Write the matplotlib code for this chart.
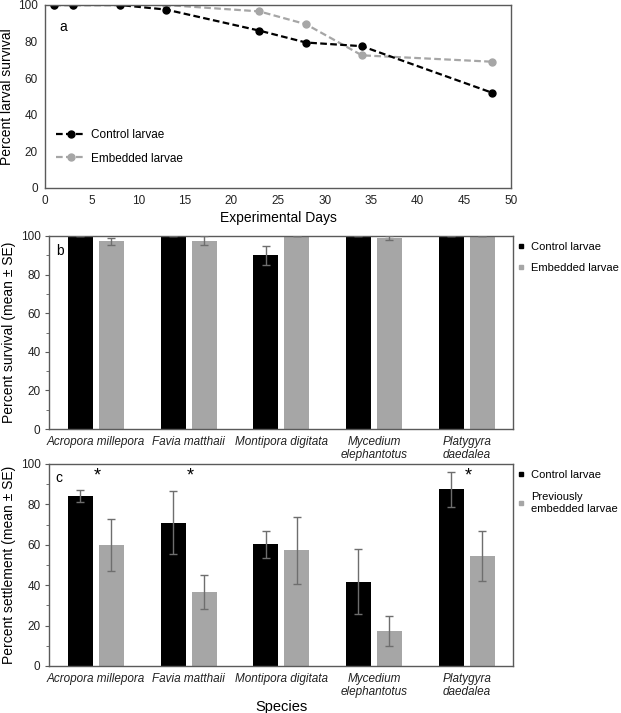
import matplotlib
matplotlib.use("Agg")
import matplotlib.pyplot as plt
from matplotlib.lines import Line2D
import numpy as np

plt.rcParams['font.family'] = ['Liberation Sans', 'DejaVu Sans']

# Panel a data
days = [1, 3, 8, 13, 23, 28, 34, 48]
control_surv = [100, 100, 100, 97.5, 86, 79.5, 77.5, 52]
embedded_surv = [100, 100, 100, 100, 96.5, 89.5, 72.5, 69]

# Panel b/c categories
species = ["Acropora millepora", "Favia matthaii", "Montipora digitata",
           "Mycedium\nelephantotus", "Platygyra\ndaedalea"]

# Panel b data
b_control = [100, 100, 90, 100, 100]
b_control_se = [0, 0, 5, 0, 0]
b_embedded = [97.2, 97.5, 100, 99, 100]
b_embedded_se = [1.8, 2.3, 0, 1, 0]

# Panel c data
c_control = [84, 71, 60.3, 41.7, 87.5]
c_control_se = [3, 15.6, 6.7, 16, 8.7]
c_embedded = [59.8, 36.7, 57.2, 17.5, 54.4]
c_embedded_se = [13, 8.4, 16.5, 7.5, 12.2]
stars = [0, 1, 4]

BLACK = "#000000"
GREY = "#a6a6a6"
ERR = "#6e6e6e"
SPINE = "#5a5a5a"

W, H = 621, 713
fig = plt.figure(figsize=(W / 100, H / 100), dpi=100)

def rect(l, r, t, b):
    return [l / W, (H - b) / H, (r - l) / W, (b - t) / H]

def style(ax):
    for s in ax.spines.values():
        s.set_color(SPINE)
        s.set_linewidth(1.0)
    ax.tick_params(axis='both', labelsize=8.5, colors=SPINE, labelcolor='#222222',
                   length=3, width=0.8)

# ---- Panel a ----
axa = fig.add_axes(rect(45, 511, 5, 188))
axa.plot(days, control_surv, ls='--', color=BLACK, lw=1.6, marker='o', ms=5,
         dashes=(3, 1.5), label='Control larvae')
axa.plot(days, embedded_surv, ls='--', color=GREY, lw=1.6, marker='o', ms=5,
         dashes=(3, 1.5), label='Embedded larvae', zorder=1)
axa.set_xlim(0, 50)
axa.set_ylim(0, 100)
axa.set_xticks(np.arange(0, 51, 5))
axa.set_yticks(np.arange(0, 101, 20))
style(axa)
axa.tick_params(length=0, pad=5)
axa.set_xlabel('Experimental Days', fontsize=10, labelpad=3)
axa.set_ylabel('Percent larval survival', fontsize=10, labelpad=3)
axa.text(0.03, 0.86, 'a', transform=axa.transAxes, fontsize=10)
axa.legend(loc='lower left', bbox_to_anchor=(0.0, 0.07), frameon=False, fontsize=8.5,
           handlelength=2.6, handletextpad=0.4, labelspacing=1.0)

x = np.arange(len(species))
bw = 0.27
off = 0.167

def bars(ax, ctrl, ctrl_se, emb, emb_se):
    ax.bar(x - off, ctrl, bw, color=BLACK, zorder=2)
    ax.bar(x + off, emb, bw, color=GREY, zorder=2)
    ax.errorbar(x - off, ctrl, yerr=ctrl_se, fmt='none', ecolor=ERR, elinewidth=1,
                capsize=3, capthick=1, zorder=3)
    ax.errorbar(x + off, emb, yerr=emb_se, fmt='none', ecolor=ERR, elinewidth=1,
                capsize=3, capthick=1, zorder=3)
    ax.set_xlim(-0.5, len(species) - 0.5)
    ax.set_ylim(0, 100)
    ax.set_yticks(np.arange(0, 101, 20))
    ax.set_yticks(np.arange(0, 101, 10), minor=True)
    ax.set_xticks(x)
    ax.set_xticklabels(species, fontstyle='italic', fontsize=8.5, linespacing=1.15)
    style(ax)
    ax.tick_params(axis='x', length=0, pad=5)
    ax.tick_params(axis='y', which='minor', length=2, width=0.6, colors=SPINE)

def side_legend(ax, labels, y, spacing):
    h = [Line2D([], [], ls='none', marker='s', ms=3.5, color=BLACK),
         Line2D([], [], ls='none', marker='s', ms=3.5, color=GREY)]
    ax.legend(h, labels, loc='upper left', bbox_to_anchor=(1.012, y), frameon=False,
              fontsize=8, handlelength=0.5, handletextpad=0.6, labelspacing=spacing,
              borderaxespad=0, borderpad=0)

# ---- Panel b ----
axb = fig.add_axes(rect(49.5, 513, 236, 429))
bars(axb, b_control, b_control_se, b_embedded, b_embedded_se)
axb.set_ylabel('Percent survival (mean \u00b1 SE)', fontsize=10, labelpad=3)
axb.text(0.015, 0.9, 'b', transform=axb.transAxes, fontsize=10)
side_legend(axb, ['Control larvae', 'Embedded larvae'], 0.97, 1.0)

# ---- Panel c ----
axc = fig.add_axes(rect(49.5, 513, 464, 666))
bars(axc, c_control, c_control_se, c_embedded, c_embedded_se)
axc.set_ylabel('Percent settlement (mean \u00b1 SE)', fontsize=10, labelpad=3)
axc.set_xlabel('Species', fontsize=10.5, labelpad=1)
axc.text(0.012, 0.91, 'c', transform=axc.transAxes, fontsize=10)
for i in stars:
    axc.text(i + 0.02, 94, '*', ha='center', va='center', fontsize=13)
side_legend(axc, ['Control larvae', 'Previously\nembedded larvae'], 0.97, 1.1)

fig.savefig('out.png', dpi=100)
